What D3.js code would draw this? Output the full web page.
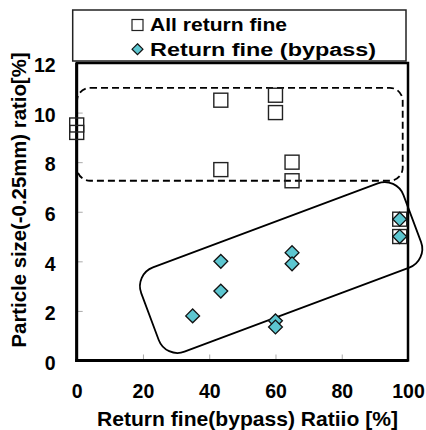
<!DOCTYPE html>
<html>
<head>
<meta charset="utf-8">
<script src="https://cdn.jsdelivr.net/npm/d3@7"></script>
<style>
html,body{margin:0;padding:0;background:#fff;}
svg{display:block;}
text{font-family:"Liberation Sans",Arial,sans-serif;font-weight:bold;fill:#000;}
</style>
</head>
<body>
<svg id="chart" width="426" height="430"></svg>
<script>
// ---- data ----
const allX = [0, 0, 43.5, 43.5, 60, 60, 65, 65, 97.5, 97.5];
const allY = [9.5, 9.2, 10.5, 7.7, 10.7, 10.0, 8.0, 7.25, 5.7, 5.0];
const bypassX = [35, 43.5, 43.5, 60, 60, 65, 65, 97.5, 97.5];
const bypassY = [1.8, 4.0, 2.8, 1.6, 1.35, 4.35, 3.9, 5.7, 5.0];
const xTicks = [0, 20, 40, 60, 80, 100];
const yTicks = [0, 2, 4, 6, 8, 10, 12];
const seriesNames = ["All return fine", "Return fine (bypass)"];
const xTitle = "Return fine(bypass) Ratiio [%]";
const yTitle = "Particle size(-0.25mm) ratio[%]";

const svg = d3.select("#chart");
const x = d3.scaleLinear().domain([0, 100]).range([76.7, 408]);
const y = d3.scaleLinear().domain([0, 12]).range([360.5, 63]);

// inner ticks
const gx = svg.append("g").attr("transform", `translate(0,${y(0)})`)
  .call(d3.axisBottom(x).tickValues(xTicks).tickSizeInner(-6).tickSizeOuter(0).tickPadding(0));
gx.select(".domain").remove();
gx.selectAll("line").attr("stroke", "#aaa").attr("stroke-width", 1);
gx.selectAll("text").attr("y", 37).attr("dy", null).attr("font-size", 19.5)
  .attr("font-family", "Liberation Sans, Arial, sans-serif").attr("font-weight", "bold");

const gy = svg.append("g").attr("transform", `translate(${x(0)},0)`)
  .call(d3.axisLeft(y).tickValues(yTicks).tickSizeInner(-6).tickSizeOuter(0).tickPadding(0));
gy.select(".domain").remove();
gy.selectAll("line").attr("stroke", "#aaa").attr("stroke-width", 1);
gy.selectAll("text").attr("x", -21).attr("dy", "0.45em").attr("font-size", 19.5)
  .attr("font-family", "Liberation Sans, Arial, sans-serif").attr("font-weight", "bold");

// dashed rounded group (All return fine)
svg.append("rect")
  .attr("x", x(0.1)).attr("y", y(11.0))
  .attr("width", x(98.4) - x(0.1)).attr("height", y(7.25) - y(11.0))
  .attr("rx", 13).attr("ry", 13)
  .attr("fill", "none").attr("stroke", "#000").attr("stroke-width", 1.8)
  .attr("stroke-dasharray", "7,4");

// rotated rounded group (bypass)
const cx = x(61.7), cy = y(3.75);
svg.append("rect")
  .attr("x", cx - 140).attr("y", cy - 45)
  .attr("width", 280).attr("height", 90)
  .attr("rx", 20).attr("ry", 20)
  .attr("transform", `rotate(-20.5 ${cx} ${cy})`)
  .attr("fill", "none").attr("stroke", "#000").attr("stroke-width", 1.8);

// frame
svg.append("rect")
  .attr("x", x(0)).attr("y", y(12))
  .attr("width", x(100) - x(0)).attr("height", y(0) - y(12))
  .attr("fill", "none").attr("stroke", "#000").attr("stroke-width", 2.5);
svg.append("line").attr("x1", x(0)).attr("x2", x(0)).attr("y1", y(12)).attr("y2", y(0) + 1.5)
  .attr("stroke", "#000").attr("stroke-width", 3);
svg.append("line").attr("x1", x(0) - 1.5).attr("x2", x(100)).attr("y1", y(0)).attr("y2", y(0))
  .attr("stroke", "#000").attr("stroke-width", 3);

// squares
const sq = 14;
svg.append("g").selectAll("rect").data(allX.map((d, i) => [d, allY[i]])).join("rect")
  .attr("x", d => x(d[0]) - sq / 2).attr("y", d => y(d[1]) - sq / 2)
  .attr("width", sq).attr("height", sq)
  .attr("fill", "none").attr("stroke", "#222").attr("stroke-width", 1.4);

// diamonds
const dsym = d3.symbol().type(d3.symbolDiamond2).size(122);
svg.append("g").selectAll("path").data(bypassX.map((d, i) => [d, bypassY[i]])).join("path")
  .attr("d", dsym)
  .attr("transform", d => `translate(${x(d[0])},${y(d[1])})`)
  .attr("fill", "#5cc6d0").attr("stroke", "#111").attr("stroke-width", 1.3);

// legend
svg.append("rect").attr("x", 72.7).attr("y", 10).attr("width", 333.3).attr("height", 51)
  .attr("fill", "#fff").attr("stroke", "#222").attr("stroke-width", 1.5);
svg.append("rect").attr("x", 132).attr("y", 19.5).attr("width", 11).attr("height", 11)
  .attr("fill", "#fff").attr("stroke", "#222").attr("stroke-width", 1.2);
svg.append("path").attr("d", d3.symbol().type(d3.symbolDiamond2).size(75)())
  .attr("transform", "translate(137.5,49.2)")
  .attr("fill", "#5cc6d0").attr("stroke", "#111").attr("stroke-width", 1.2);
const legendFont = "'Noto Sans CJK JP','DejaVu Sans',sans-serif";
svg.append("text").attr("x", 150).attr("y", 31).attr("font-size", 18)
  .attr("font-family", legendFont).attr("textLength", 137).attr("lengthAdjust", "spacingAndGlyphs")
  .text(seriesNames[0]);
svg.append("text").attr("x", 150).attr("y", 56).attr("font-size", 18)
  .attr("font-family", legendFont).attr("textLength", 226).attr("lengthAdjust", "spacingAndGlyphs")
  .text(seriesNames[1]);

// axis titles
svg.append("text").attr("x", 247.5).attr("y", 425.5).attr("text-anchor", "middle")
  .attr("font-size", 20.5).attr("font-family", legendFont)
  .attr("textLength", 301).attr("lengthAdjust", "spacingAndGlyphs")
  .text(xTitle);
svg.append("text").attr("transform", "translate(25.5,200) rotate(-90)").attr("text-anchor", "middle")
  .attr("font-size", 19.5)
  .attr("textLength", 295).attr("lengthAdjust", "spacingAndGlyphs")
  .text(yTitle);
</script>
</body>
</html>
